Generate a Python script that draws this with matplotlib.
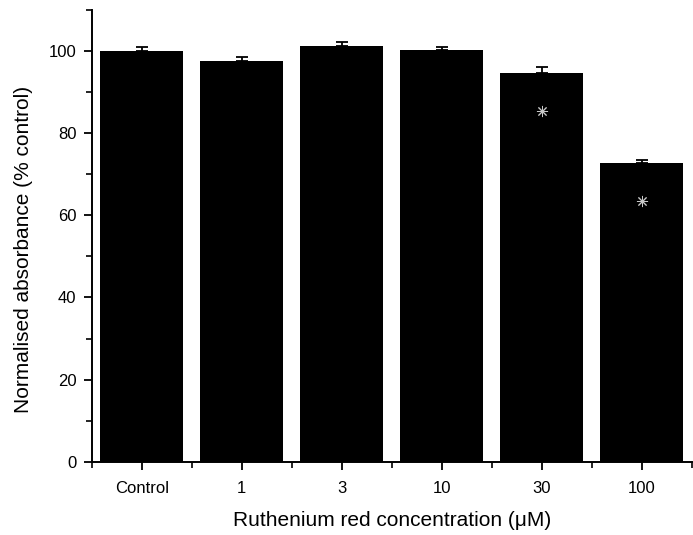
import matplotlib
matplotlib.use("Agg")
import matplotlib.pyplot as plt
from matplotlib.ticker import MultipleLocator, FixedLocator
import numpy as np

plt.rcParams['font.family'] = ['Liberation Sans', 'DejaVu Sans']

categories = ["Control", "1", "3", "10", "30", "100"]
absorbance = [100.1, 97.5, 101.2, 100.2, 94.7, 72.8]
sem = [1.0, 1.1, 1.1, 0.9, 1.5, 0.6]
significant = [False, False, False, False, True, True]

fig = plt.figure(figsize=(6.93, 5.35), dpi=100)
ax = fig.add_axes([0.1323, 0.137, 0.866, 0.8443])

x = np.arange(len(categories))
ax.bar(x, absorbance, width=0.83, color="black", zorder=2)
ax.errorbar(x, absorbance, yerr=[np.zeros(len(sem)), sem], fmt="none",
            ecolor="black", elinewidth=1.3, capsize=4, capthick=1.3, zorder=3)

# significance markers drawn inside the bars
for xi, v, s in zip(x, absorbance, significant):
    if s:
        ax.plot(xi, v - 9.3, marker=(8, 2, 0), markersize=8, color="#c8c8c8",
                mew=0.7, linestyle="none", zorder=4)

ax.set_xlim(-0.5, len(categories) - 0.5)
ax.set_ylim(0, 110)

ax.spines["top"].set_visible(False)
ax.spines["right"].set_visible(False)
for sp in ("left", "bottom"):
    ax.spines[sp].set_linewidth(1.4)

ax.set_xticks(x)
ax.set_xticklabels(categories)
ax.xaxis.set_minor_locator(FixedLocator(np.arange(-0.5, len(categories), 1.0)))
ax.yaxis.set_major_locator(MultipleLocator(20))
ax.yaxis.set_minor_locator(MultipleLocator(10))

ax.tick_params(axis="both", which="major", direction="out", length=6, width=1.3,
               labelsize=12, pad=5)
ax.tick_params(axis="both", which="minor", direction="out", length=4, width=1.2)
ax.tick_params(axis="x", which="major", pad=8)
for lbl in ax.get_xticklabels() + ax.get_yticklabels():
    lbl.set_fontweight("medium")

ax.set_xlabel("Ruthenium red concentration (μM)", fontsize=15, labelpad=11)
ax.set_ylabel("Normalised absorbance (% control)", fontsize=15, labelpad=10)
ax.yaxis.set_label_coords(-0.098, 0.47)

fig.savefig("out.png", dpi=100)
